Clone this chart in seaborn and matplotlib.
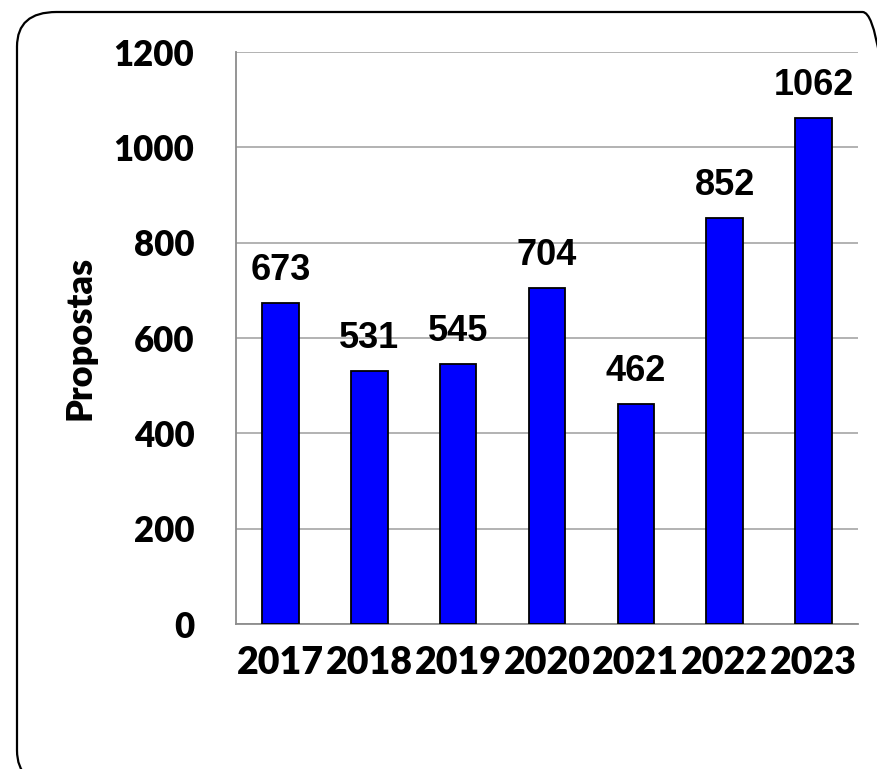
import pandas as pd
import matplotlib.pyplot as plt
import seaborn as sns
from matplotlib.patches import FancyBboxPatch

anos = ['2017', '2018', '2019', '2020', '2021', '2022', '2023']
propostas = [673, 531, 545, 704, 462, 852, 1062]

df = pd.DataFrame({'Ano': anos, 'Propostas': propostas})

sns.set_style('white')
plt.rcParams['text.color'] = 'black'
plt.rcParams['axes.labelcolor'] = 'black'
plt.rcParams['xtick.color'] = 'black'
plt.rcParams['ytick.color'] = 'black'

fig = plt.figure(figsize=(8.77, 7.69), dpi=100)
ax = fig.add_axes([236 / 877, 1 - 624 / 769, 622 / 877, 572 / 769])

sns.barplot(data=df, x='Ano', y='Propostas', color='#0000FF', saturation=1,
            width=0.41, edgecolor='black', linewidth=1.3, ax=ax, zorder=3)

ax.set_ylim(0, 1200)
ax.set_yticks(range(0, 1201, 200))
ax.yaxis.grid(True, color='#A6A6A6', linewidth=1.2, zorder=0)
ax.set_axisbelow(True)
for s in ['top', 'right']:
    ax.spines[s].set_visible(False)
for s in ['left', 'bottom']:
    ax.spines[s].set_color('#8C8C8C')
    ax.spines[s].set_linewidth(1.3)
ax.tick_params(length=0)

for lab in ax.get_yticklabels():
    lab.set_fontfamily('Lato')
    lab.set_fontweight('heavy')
    lab.set_fontsize(25)
for lab in ax.get_xticklabels():
    lab.set_fontfamily('Lato')
    lab.set_fontweight('heavy')
    lab.set_fontsize(27)
ax.tick_params(axis='y', pad=30)
ax.tick_params(axis='x', pad=16)

ax.set_xlabel('')
ax.set_ylabel('Propostas', fontfamily='Lato', fontweight='heavy', fontsize=26, labelpad=12)

for i, v in enumerate(propostas):
    ax.annotate(str(v), (i, v), xytext=(0, 11), textcoords='offset points',
                ha='center', va='bottom', fontfamily='Liberation Sans',
                fontweight='bold', fontsize=26, color='black')

border = FancyBboxPatch((17 / 877, 1 - 785 / 769), 885 / 877, 773 / 769,
                        boxstyle='round,pad=0,rounding_size=0.045',
                        transform=fig.transFigure, fill=False,
                        edgecolor='black', linewidth=1.6, clip_on=False)
fig.patches.append(border)

fig.savefig('out.png', dpi=100)
